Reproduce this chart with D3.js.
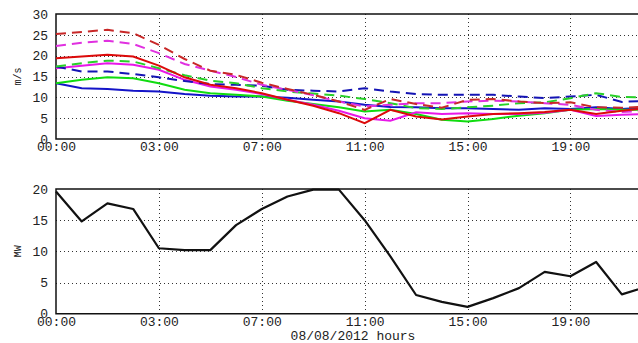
<!DOCTYPE html>
<html><head><meta charset="utf-8">
<script src="https://cdn.jsdelivr.net/npm/d3@7"></script>
<style>
html,body{margin:0;padding:0;background:#fff;overflow:hidden;}
svg{display:block;}
text{font-family:"Liberation Mono","DejaVu Sans Mono",monospace;fill:#222;}
</style></head><body>
<script>
// hourly index 0..23
const hours = d3.range(24);
const tickIdx = [0, 4, 8, 12, 16, 20];
const tickLabels = ["00:00", "03:00", "07:00", "11:00", "15:00", "19:00"];
const topYTicks = [0, 5, 10, 15, 20, 25, 30];
const botYTicks = [0, 5, 10, 15, 20];

const solidBlue    = [13.4,12.2,12.0,11.6,11.4,10.8,10.4,10.2,10.2,9.9,9.4,9.0,8.2,7.7,7.6,7.4,7.4,7.2,7.0,7.4,7.2,7.6,7.2,7.6];
const solidGreen   = [13.4,14.2,14.8,14.6,13.4,11.8,11.0,10.6,10.2,9.2,8.4,7.6,6.6,7.0,6.0,4.6,4.2,4.8,5.6,6.2,7.0,7.2,7.0,7.0];
const solidMagenta = [17.0,17.6,18.2,17.8,16.6,14.2,12.6,11.8,10.8,9.4,8.2,6.8,5.0,4.4,6.4,6.0,6.2,6.0,6.0,6.3,7.0,5.5,5.8,6.0];
const solidRed     = [19.4,19.8,20.2,19.8,17.6,14.8,13.0,12.2,11.0,9.4,8.0,6.2,3.8,7.0,5.4,4.7,5.4,6.0,6.2,6.5,7.0,6.0,6.8,7.4];
const dashBlue     = [17.4,16.2,16.2,15.6,14.8,13.9,13.2,13.0,12.8,11.8,11.6,11.4,12.2,11.4,10.8,10.6,10.6,10.6,10.2,9.8,10.2,10.6,8.9,9.2];
const dashGreen    = [17.4,18.2,18.8,18.6,17.0,15.3,14.0,13.4,12.2,11.4,10.9,10.4,9.6,8.6,7.4,7.2,7.6,8.0,8.6,8.8,9.8,11.0,10.1,10.0];
const dashMagenta  = [22.3,23.1,23.6,22.8,20.6,18.0,16.4,14.9,13.0,11.8,10.5,9.0,7.8,8.2,8.6,8.6,9.0,9.2,9.0,8.6,8.2,7.0,6.5,6.8];
const dashRed      = [25.2,25.7,26.2,25.4,22.6,19.2,16.4,15.4,13.5,12.0,10.6,9.0,7.0,9.6,8.4,7.5,9.4,9.6,9.0,8.6,8.8,7.6,7.5,7.8];
const power        = [19.6,14.8,17.7,16.8,10.5,10.2,10.2,14.2,16.8,18.8,19.9,19.9,15.0,9.2,3.0,1.9,1.1,2.5,4.1,6.7,6.0,8.3,3.1,4.4];

const series = [
  {v: solidBlue,    c: "#1414c8", d: null},
  {v: solidGreen,   c: "#10dc10", d: null},
  {v: solidMagenta, c: "#e818e8", d: null},
  {v: dashBlue,     c: "#1414b4", d: "10,6"},
  {v: dashGreen,    c: "#28d028", d: "10,6"},
  {v: dashMagenta,  c: "#e030e0", d: "10,6"},
  {v: dashRed,      c: "#c82828", d: "10,6"},
  {v: solidRed,     c: "#dc0a0a", d: null}
];

const W = 638, H = 343;
const svg = d3.select("body").append("svg").attr("width", W).attr("height", H);

const x = d3.scaleLinear().domain([0, 23]).range([56, 56 + 23 * 25.72]);
const xRight = 700;

function panel(y, yTicks, ylab) {
  const g = svg.append("g");
  const [y0, y1] = y.range();
  // grid
  g.selectAll(".hg").data(yTicks.filter(t => t !== y.domain()[0] && t !== y.domain()[1]))
    .enter().append("line")
    .attr("x1", x(0)).attr("x2", xRight)
    .attr("y1", d => Math.round(y(d)) + 0.5).attr("y2", d => Math.round(y(d)) + 0.5)
    .attr("stroke", "#333").attr("stroke-width", 1).attr("stroke-dasharray", "1,3");
  g.selectAll(".vg").data(tickIdx.slice(1)).enter().append("line")
    .attr("x1", d => Math.round(x(d)) + 0.5).attr("x2", d => Math.round(x(d)) + 0.5)
    .attr("y1", y1).attr("y2", y0)
    .attr("stroke", "#333").attr("stroke-width", 1).attr("stroke-dasharray", "1,3");
  // frame
  g.append("path")
    .attr("d", `M${xRight},${y1}H${x(0)}V${y0}H${xRight}`)
    .attr("fill", "none").attr("stroke", "#111").attr("stroke-width", 1.5);
  // y axis labels
  const ya = d3.axisLeft(y).tickValues(yTicks).tickSize(0).tickPadding(8);
  const yg = g.append("g").attr("transform", `translate(${x(0)},0)`).call(ya);
  yg.select(".domain").remove();
  yg.selectAll("text").style("font-size", "13px").style("font-family", '"Liberation Mono",monospace').attr("fill", "#222");
  // x axis labels
  const xa = d3.axisBottom(x).tickValues(tickIdx).tickFormat((d, i) => tickLabels[i]).tickSize(0).tickPadding(3);
  const xg = g.append("g").attr("transform", `translate(0,${y0})`).call(xa);
  xg.select(".domain").remove();
  xg.selectAll("text").style("font-size", "13px").style("font-family", '"Liberation Mono",monospace').attr("fill", "#222");
  // y title
  g.append("text").attr("transform", `translate(21,${(y0 + y1) / 2}) rotate(-90)`)
    .attr("text-anchor", "middle").style("font-size", "10px").text(ylab);
  return g;
}

const yTop = d3.scaleLinear().domain([0, 30]).range([139, 14]);
const yBot = d3.scaleLinear().domain([0, 20]).range([313.7, 189]);

const gTop = panel(yTop, topYTicks, "m/s");
const gBot = panel(yBot, botYTicks, "MW");

const lineTop = d3.line().x((d, i) => x(i)).y(d => yTop(d));
series.forEach(s => {
  gTop.append("path").datum(s.v).attr("d", lineTop)
    .attr("fill", "none").attr("stroke", s.c).attr("stroke-width", 2)
    .attr("stroke-dasharray", s.d);
});

const lineBot = d3.line().x((d, i) => x(i)).y(d => yBot(d));
gBot.append("path").datum(power).attr("d", lineBot)
  .attr("fill", "none").attr("stroke", "#111").attr("stroke-width", 2.2)
  .attr("stroke-linejoin", "round");

svg.append("text").attr("x", 353).attr("y", 339.5).attr("text-anchor", "middle")
  .style("font-size", "13px").text("08/08/2012 hours");
</script>
</body></html>
